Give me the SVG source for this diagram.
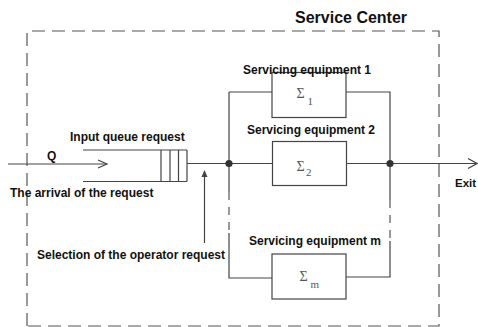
<svg xmlns="http://www.w3.org/2000/svg" width="478" height="327" viewBox="0 0 478 327">
  <defs>
    <style>
      .ln { fill: none; stroke: #444; stroke-width: 1.2; }
      .dash { fill: none; stroke: #555; stroke-width: 1.2; stroke-dasharray: 13 7; }
      .vdash { fill: none; stroke: #555; stroke-width: 1.2; stroke-dasharray: 8 7; }
      .box { fill: #fff; stroke: #444; stroke-width: 1.2; }
      .lbl { font-family: "Liberation Sans", Arial, sans-serif; font-weight: bold; font-size: 12px; fill: #111; }
      .title { font-family: "Liberation Sans", Arial, sans-serif; font-weight: bold; font-size: 16px; fill: #111; }
      .sig { font-family: "Liberation Serif", "Times New Roman", serif; font-size: 14px; fill: #555; }
      .sub { font-family: "Liberation Serif", "Times New Roman", serif; font-size: 11px; fill: #555; }
      .dot { fill: #333; }
    </style>
  </defs>

  <rect width="478" height="327" fill="#fff"/>

  <!-- service center boundary -->
  <g id="service-center">
    <path class="dash" d="M27,326 V31 H439 V326 H27"/>
    <text class="title" x="295" y="22.5">Service Center</text>
  </g>

  <!-- connectors -->
  <g id="connectors">
    <!-- incoming flow -->
    <path class="ln" d="M8,164 H107"/>
    <path class="ln" d="M98,160 L107,164 L98,168"/>
    <!-- queue to fork -->
    <path class="ln" d="M187,163.5 H272"/>
    <!-- fork rail -->
    <path class="ln" d="M229,92 V192"/>
    <path class="vdash" d="M229,192 V233"/>
    <path class="ln" d="M229,233 V278 H272"/>
    <path class="ln" d="M229,92 H272"/>
    <!-- join rail -->
    <path class="ln" d="M346,92 H390 V200"/>
    <path class="vdash" d="M390,200 V241"/>
    <path class="ln" d="M390,241 V277 H346"/>
    <!-- join to exit -->
    <path class="ln" d="M346,163.5 H477"/>
    <path class="ln" d="M468,158.5 L477,163.5 L468,168.5"/>
    <!-- operator selection -->
    <path class="ln" d="M204.5,176 V243"/>
    <path d="M204.5,170 L201.5,177 L207.5,177 Z" fill="#444"/>
  </g>

  <!-- input queue -->
  <g id="queue">
    <path class="ln" d="M83,150 H187 M83,181.5 H187"/>
    <path class="ln" d="M161,150 V181.5 M170,150 V181.5 M178.5,150 V181.5 M187,150 V181.5"/>
    <text class="lbl" x="70" y="141">Input queue request</text>
    <text class="lbl" x="47" y="159.5">Q</text>
    <text class="lbl" x="10" y="197">The arrival of the request</text>
  </g>

  <g id="selection-label">
    <text class="lbl" x="37" y="259">Selection of the operator request</text>
  </g>

  <!-- junctions -->
  <g id="fork">
    <circle class="dot" cx="229" cy="163.5" r="3.6"/>
  </g>
  <g id="join">
    <circle class="dot" cx="390" cy="163.5" r="3.6"/>
  </g>

  <!-- servicing equipment -->
  <g id="equipment-1">
    <rect class="box" x="272" y="72.5" width="74" height="45"/>
    <text class="lbl" x="243" y="74">Servicing equipment 1</text>
    <text class="sig" x="296.5" y="97.5">Σ</text>
    <text class="sub" x="307.5" y="105">1</text>
  </g>
  <g id="equipment-2">
    <rect class="box" x="272.5" y="141.5" width="74" height="44"/>
    <text class="lbl" x="247" y="134">Servicing equipment 2</text>
    <text class="sig" x="296.5" y="170.5">Σ</text>
    <text class="sub" x="306" y="175.5">2</text>
  </g>
  <g id="equipment-m">
    <rect class="box" x="272" y="254" width="74" height="45"/>
    <text class="lbl" x="249" y="245">Servicing equipment m</text>
    <text class="sig" x="299.5" y="281">Σ</text>
    <text class="sub" x="310.5" y="287.5">m</text>
  </g>

  <g id="exit">
    <text class="lbl" x="455" y="187" style="font-size:11.5px">Exit</text>
  </g>
</svg>
